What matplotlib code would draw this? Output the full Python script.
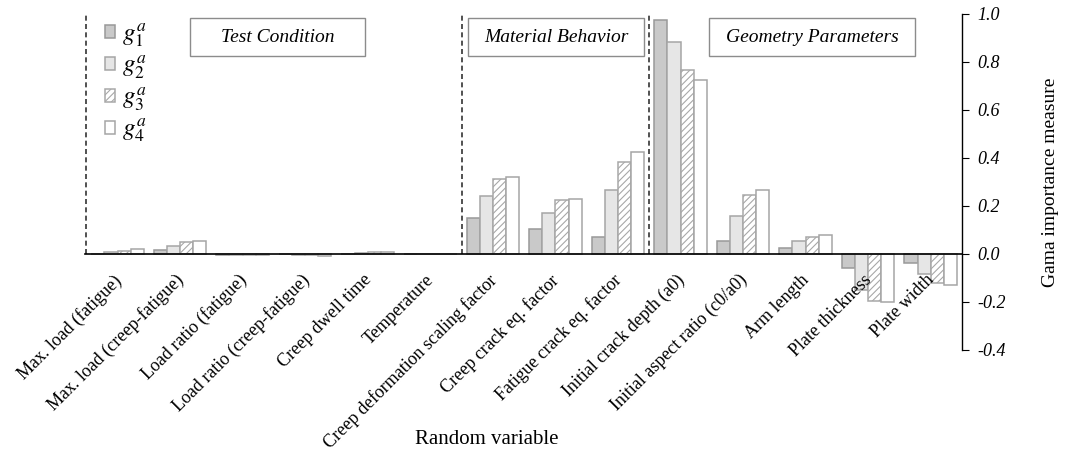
import matplotlib
matplotlib.use("Agg")
import numpy as np
import matplotlib.pyplot as plt
from matplotlib.patches import Rectangle, Patch
from matplotlib.transforms import ScaledTranslation

categories = ["Max. load (fatigue)", "Max. load (creep-fatigue)", "Load ratio (fatigue)",
              "Load ratio (creep-fatigue)", "Creep dwell time", "Temperature",
              "Creep deformation scaling factor", "Creep crack eq. factor",
              "Fatigue crack eq. factor", "Initial crack depth (a0)",
              "Initial aspect ratio (c0/a0)", "Arm length", "Plate thickness", "Plate width"]
g1 = [0.002, 0.017, -0.003, -0.002, 0.002, 0.0, 0.148, 0.106, 0.070, 0.975, 0.055, 0.024, -0.058, -0.036]
g2 = [0.010, 0.035, -0.003, -0.003, 0.006, 0.0, 0.243, 0.172, 0.267, 0.883, 0.157, 0.055, -0.150, -0.083]
g3 = [0.014, 0.050, -0.003, -0.004, 0.010, 0.0, 0.314, 0.224, 0.382, 0.765, 0.244, 0.072, -0.195, -0.120]
g4 = [0.020, 0.055, -0.003, -0.010, 0.010, 0.0, 0.320, 0.230, 0.424, 0.724, 0.267, 0.080, -0.200, -0.130]
series = [g1, g2, g3, g4]
labels = [r"$g_1^a$", r"$g_2^a$", r"$g_3^a$", r"$g_4^a$"]
groups = ["Test Condition", "Material Behavior", "Geometry Parameters"]

plt.rcParams['font.family'] = ['Liberation Serif', 'DejaVu Serif']
plt.rcParams['mathtext.fontset'] = 'stix'
plt.rcParams['hatch.color'] = '#a8a8a8'
plt.rcParams['hatch.linewidth'] = 0.8

fig = plt.figure(figsize=(10.68, 4.62), dpi=100)
ax = fig.add_axes([85 / 1068, 1 - 350 / 462, 877 / 1068, 336 / 462])
ax.set_axisbelow(False)

x = np.arange(len(categories))
w = 0.21
faces = ['#c9c9c9', '#e6e6e6', 'white', 'white']
edges = ['#999999', '#a5a5a5', '#a8a8a8', '#a5a5a5']
hatches = [None, None, '/////', None]
for i, vals in enumerate(series):
    ax.bar(x + (i - 1.5) * w, vals, w, color=faces[i], edgecolor=edges[i],
           hatch=hatches[i], linewidth=1.1, label=labels[i], zorder=2)

ax.set_xlim(-0.52, 13.5)
ax.set_ylim(-0.4, 1.0)

# spines
for s in ['top', 'left']:
    ax.spines[s].set_visible(False)
ax.spines['bottom'].set_position(('data', 0))
ax.spines['bottom'].set_zorder(3)
ax.spines['bottom'].set_linewidth(1.2)
ax.spines['right'].set_linewidth(1.0)
ax.yaxis.tick_right()
ax.yaxis.set_label_position('right')
ax.set_yticks(np.arange(-0.4, 1.01, 0.2))
ax.set_yticklabels([f"{v:.1f}" for v in np.arange(-0.4, 1.01, 0.2)], fontstyle='italic', fontsize=13)
ax.tick_params(axis='y', direction='out', length=5, pad=6)
ax.set_ylabel("Gama importance measure", fontsize=14, labelpad=26)

ax.set_xticks(x)
ax.set_xticklabels(categories, rotation=45, ha='right', rotation_mode='anchor', fontsize=13)
ax.tick_params(axis='x', length=0, pad=12.5)
off = ScaledTranslation(-0.05, 0, fig.dpi_scale_trans)
for t in ax.get_xticklabels():
    t.set_transform(t.get_transform() + off)
fig.text(487 / 1068, 1 - 440 / 462, "Random variable", ha='center', va='center', fontsize=15)

# group separators
for xv in [-0.5, 5.5, 8.5]:
    ax.plot([xv, xv], [0, 1.0], ls=(0, (3, 2)), color='#333333', lw=1.2, zorder=1)

# group boxes (pixel coords)
boxes = [(190, 365), (468, 644), (709, 915)]
for (x0, x1), name in zip(boxes, groups):
    r = Rectangle((x0 / 1068, 1 - 56 / 462), (x1 - x0) / 1068, 38 / 462,
                  transform=fig.transFigure, facecolor='white', edgecolor='#8c8c8c', lw=1.0)
    fig.add_artist(r)
    fig.text((x0 + x1) / 2 / 1068, 1 - 37 / 462, name, ha='center', va='center',
             fontsize=14, fontstyle='italic')

handles = [Patch(facecolor=faces[i], edgecolor=edges[i], hatch=hatches[i], lw=1.1) for i in range(4)]
ax.legend(handles, labels, loc='upper left', bbox_to_anchor=(97 / 1068, 1 - 14 / 462),
          bbox_transform=fig.transFigure, frameon=False, fontsize=18, borderaxespad=0,
          borderpad=0.3, handlelength=0.42, handleheight=0.42, handletextpad=0.3,
          labelspacing=0.16)

fig.savefig("out.png", dpi=100)
